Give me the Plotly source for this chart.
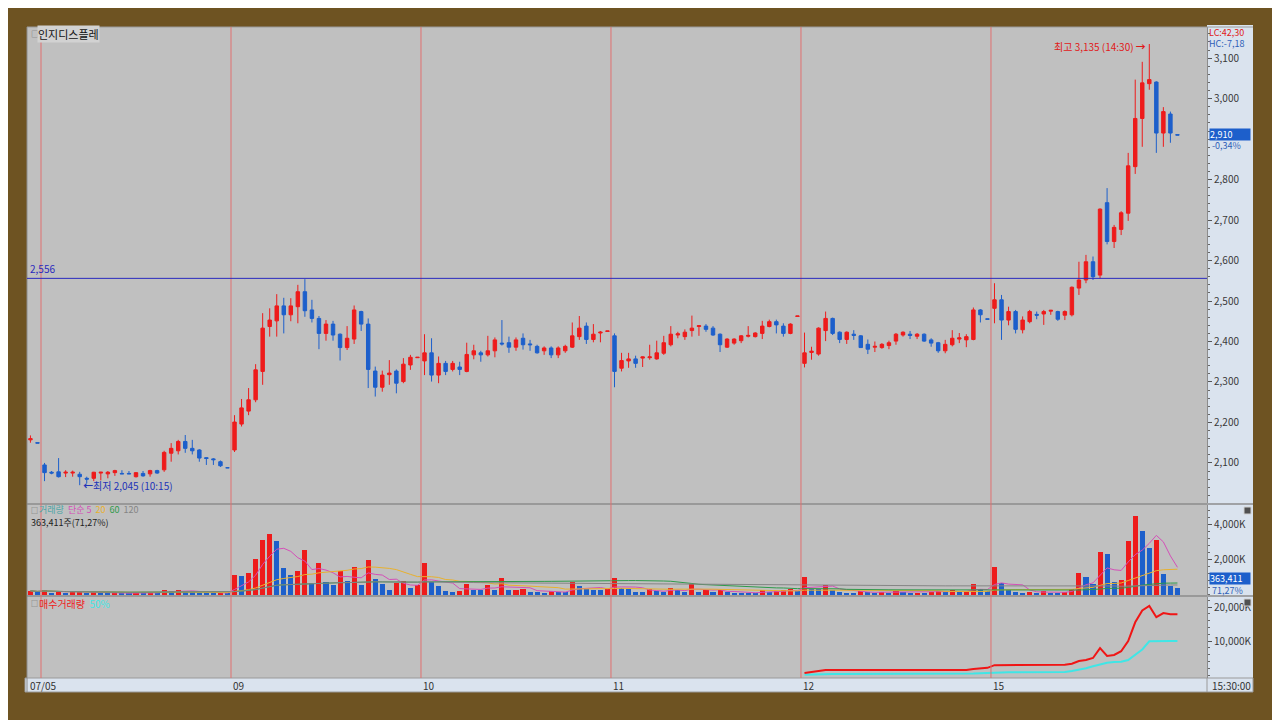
import plotly.graph_objects as go
import pandas as pd

# ---------------- data ----------------
day_labels = ["07/05", "09", "10", "11", "12", "15"]
bars_per_day = 27          # 15-minute bars 09:00 .. 15:30
prev_day_bars = 2          # last two bars of the previous session

o_prev = [2157, 2150]
h_prev = [2168, 2150]
l_prev = [2150, 2149]
c_prev = [2160, 2149]
v_prev = [220, 150]

o_0705 = [2095, 2077, 2078, 2075, 2075, 2072, 2062, 2062, 2075, 2073, 2076, 2074, 2074, 2066, 2074, 2073, 2081, 2083, 2124, 2130, 2153, 2136, 2132, 2113, 2110, 2103, 2088]
h_0705 = [2100, 2080, 2112, 2082, 2081, 2078, 2066, 2078, 2078, 2080, 2083, 2082, 2080, 2077, 2080, 2083, 2083, 2130, 2149, 2157, 2169, 2157, 2134, 2114, 2112, 2106, 2088]
l_0705 = [2055, 2072, 2064, 2065, 2066, 2045, 2050, 2055, 2057, 2062, 2068, 2073, 2073, 2064, 2066, 2066, 2073, 2078, 2103, 2121, 2125, 2121, 2103, 2095, 2095, 2090, 2088]
c_0705 = [2076, 2075, 2066, 2077, 2077, 2066, 2060, 2077, 2077, 2077, 2081, 2073, 2073, 2076, 2068, 2081, 2075, 2126, 2136, 2153, 2136, 2130, 2112, 2111, 2108, 2093, 2088]
v_0705 = [260, 120, 210, 100, 150, 190, 90, 160, 110, 90, 130, 60, 50, 140, 80, 160, 100, 280, 230, 250, 180, 140, 120, 90, 80, 110, 60]

o_09 = [2132, 2196, 2228, 2256, 2326, 2437, 2451, 2488, 2466, 2486, 2523, 2478, 2457, 2420, 2443, 2418, 2385, 2406, 2474, 2443, 2327, 2287, 2318, 2327, 2301, 2342, 2360]
h_09 = [2218, 2258, 2285, 2344, 2470, 2482, 2517, 2508, 2507, 2540, 2554, 2503, 2463, 2453, 2451, 2420, 2438, 2489, 2476, 2457, 2338, 2328, 2354, 2331, 2359, 2367, 2361]
l_09 = [2127, 2190, 2218, 2250, 2293, 2412, 2412, 2420, 2450, 2445, 2461, 2447, 2381, 2402, 2402, 2353, 2379, 2394, 2426, 2285, 2264, 2276, 2293, 2272, 2297, 2330, 2360]
c_09 = [2201, 2236, 2256, 2330, 2433, 2453, 2488, 2466, 2488, 2523, 2476, 2457, 2420, 2443, 2416, 2385, 2408, 2478, 2443, 2331, 2287, 2317, 2322, 2297, 2344, 2361, 2361]
v_09 = [1147, 1090, 1241, 2030, 3158, 3497, 3102, 1504, 1147, 1335, 2538, 658, 1805, 714, 564, 1335, 808, 1560, 564, 1974, 902, 620, 282, 658, 808, 395, 526]

o_10 = [2352, 2372, 2317, 2346, 2331, 2337, 2326, 2367, 2372, 2367, 2377, 2396, 2397, 2386, 2408, 2394, 2388, 2377, 2384, 2367, 2377, 2386, 2412, 2438, 2405, 2421, 2425]
h_10 = [2418, 2408, 2363, 2352, 2352, 2350, 2397, 2392, 2377, 2414, 2410, 2453, 2412, 2410, 2420, 2404, 2392, 2388, 2388, 2388, 2392, 2447, 2463, 2447, 2443, 2426, 2426]
l_10 = [2317, 2301, 2297, 2317, 2326, 2317, 2324, 2356, 2350, 2363, 2361, 2390, 2372, 2377, 2380, 2377, 2370, 2367, 2359, 2359, 2372, 2384, 2404, 2394, 2398, 2398, 2425]
c_10 = [2372, 2317, 2346, 2326, 2346, 2331, 2368, 2377, 2367, 2377, 2404, 2394, 2386, 2404, 2392, 2392, 2372, 2384, 2367, 2384, 2388, 2414, 2433, 2405, 2418, 2423, 2426]
v_10 = [1805, 714, 470, 188, 150, 207, 620, 282, 244, 526, 244, 959, 244, 282, 338, 150, 130, 110, 207, 150, 130, 714, 470, 338, 282, 244, 338]

o_11 = [2414, 2334, 2352, 2357, 2359, 2360, 2357, 2371, 2392, 2416, 2412, 2427, 2437, 2438, 2433, 2418, 2386, 2396, 2402, 2413, 2412, 2420, 2437, 2449, 2438, 2420, 2462]
h_11 = [2420, 2372, 2372, 2365, 2363, 2392, 2402, 2414, 2438, 2424, 2430, 2464, 2440, 2443, 2438, 2420, 2408, 2408, 2416, 2438, 2423, 2451, 2454, 2454, 2445, 2445, 2463]
l_11 = [2287, 2326, 2335, 2335, 2337, 2355, 2355, 2367, 2388, 2408, 2404, 2412, 2414, 2424, 2414, 2374, 2384, 2392, 2396, 2410, 2410, 2406, 2435, 2420, 2412, 2418, 2462]
c_11 = [2326, 2353, 2357, 2346, 2362, 2362, 2372, 2397, 2418, 2419, 2423, 2433, 2439, 2430, 2416, 2392, 2406, 2406, 2414, 2415, 2421, 2438, 2449, 2441, 2420, 2443, 2463]
v_11 = [959, 395, 338, 150, 130, 338, 207, 150, 395, 244, 150, 620, 150, 244, 150, 244, 150, 120, 100, 90, 80, 282, 150, 200, 240, 338, 200]

o_12 = [2346, 2373, 2369, 2427, 2457, 2423, 2405, 2418, 2414, 2393, 2386, 2385, 2390, 2401, 2416, 2418, 2413, 2418, 2404, 2397, 2377, 2392, 2406, 2404, 2405, 2478, 2456]
h_12 = [2422, 2387, 2435, 2474, 2459, 2425, 2425, 2428, 2416, 2405, 2400, 2396, 2402, 2421, 2425, 2426, 2421, 2420, 2408, 2399, 2404, 2428, 2421, 2418, 2484, 2480, 2456]
l_12 = [2336, 2355, 2365, 2401, 2416, 2396, 2394, 2404, 2384, 2369, 2374, 2382, 2381, 2392, 2412, 2406, 2406, 2399, 2387, 2372, 2371, 2388, 2396, 2386, 2403, 2447, 2455]
c_12 = [2372, 2376, 2433, 2457, 2420, 2405, 2423, 2415, 2385, 2381, 2388, 2393, 2397, 2418, 2423, 2415, 2418, 2401, 2396, 2377, 2393, 2408, 2409, 2412, 2478, 2466, 2455]
v_12 = [1006, 343, 330, 531, 257, 171, 114, 100, 219, 150, 100, 130, 100, 200, 150, 100, 120, 100, 150, 200, 150, 250, 150, 200, 629, 300, 200]

o_15 = [2482, 2503, 2453, 2474, 2429, 2449, 2467, 2468, 2475, 2474, 2465, 2466, 2532, 2552, 2597, 2564, 2743, 2647, 2677, 2717, 2832, 2951, 3037, 3041, 2915, 2962, 2911]
h_15 = [2544, 2515, 2486, 2478, 2462, 2478, 2474, 2478, 2478, 2476, 2477, 2536, 2597, 2614, 2610, 2729, 2779, 2688, 2722, 2866, 3047, 3091, 3135, 3043, 2979, 2968, 2911]
l_15 = [2445, 2404, 2440, 2420, 2420, 2445, 2455, 2441, 2466, 2451, 2453, 2462, 2515, 2544, 2552, 2556, 2640, 2631, 2663, 2698, 2814, 2881, 3022, 2866, 2881, 2891, 2910]
c_15 = [2503, 2453, 2474, 2430, 2453, 2474, 2465, 2474, 2477, 2455, 2474, 2534, 2552, 2597, 2560, 2727, 2647, 2682, 2718, 2834, 2951, 3039, 3047, 2915, 2968, 2915, 2910]
v_15 = [1577, 663, 286, 171, 114, 130, 114, 219, 114, 100, 130, 350, 1257, 1006, 629, 2434, 2337, 720, 817, 3063, 4531, 3634, 2663, 3106, 1194, 510, 363.411]

# 매수거래량 (thousand shares) and its 50% line, shown from day "12"
buy_12 = [600, 900, 1200, 1450, 1450, 1450, 1450, 1450, 1450, 1450, 1450, 1450, 1450, 1450, 1450, 1450, 1450, 1450, 1450, 1450, 1450, 1450, 1450, 1500, 1750, 2000, 2100]
buy_15 = [2900, 2900, 2900, 2900, 2900, 2900, 2900, 2900, 2900, 2900, 3000, 3300, 4100, 4400, 5000, 7900, 5600, 5900, 7000, 10000, 15500, 19000, 20300, 17000, 18200, 17900, 17900]
half_12 = [50, 150, 250, 300, 300, 300, 300, 300, 300, 300, 300, 300, 300, 300, 300, 300, 300, 300, 300, 300, 300, 300, 300, 350, 450, 550, 650]
half_15 = [800, 800, 800, 800, 800, 800, 800, 800, 800, 800, 900, 1200, 1500, 2000, 2600, 3200, 3600, 3800, 3900, 4400, 6000, 7500, 9900, 10000, 10000, 10000, 10000]

price_ticks = [2100, 2200, 2300, 2400, 2500, 2600, 2700, 2800, 3000, 3100]   # 2,900 hidden by price box
ma_periods = [5, 20, 60, 120]
ma_colors = ["#D44FB8", "#E8B12E", "#2E9A4A", "#858585"]

close_text = "2,910"
change_text = "-0,34%"
vol_text = "363,411"
vol_ratio_text = "71,27%"

# ---------------- assemble ----------------
opens = o_prev + o_0705 + o_09 + o_10 + o_11 + o_12 + o_15
highs = h_prev + h_0705 + h_09 + h_10 + h_11 + h_12 + h_15
lows = l_prev + l_0705 + l_09 + l_10 + l_11 + l_12 + l_15
closes = c_prev + c_0705 + c_09 + c_10 + c_11 + c_12 + c_15
volumes = v_prev + v_0705 + v_09 + v_10 + v_11 + v_12 + v_15
n = len(opens)
xs = list(range(n))

times = []
for k in range(bars_per_day):
    m = 9 * 60 + 15 * k
    times.append(f"{m // 60:02d}:{m % 60:02d}")
all_times = ["15:15", "15:30"] + times * len(day_labels)

start12 = prev_day_bars + bars_per_day * 4
buy = [None] * start12 + buy_12 + buy_15
half = [None] * start12 + half_12 + half_15

RED = "#EE1B1B"
BLUE = "#1D5FCB"

vol_colors = []
for i, v in enumerate(volumes):
    vol_colors.append(RED if i == 0 or v >= volumes[i - 1] else BLUE)

vs = pd.Series(volumes, dtype=float)

fig = go.Figure()
fig.add_trace(go.Candlestick(
    x=xs, open=opens, high=highs, low=lows, close=closes,
    increasing=dict(line=dict(color=RED, width=1), fillcolor=RED),
    decreasing=dict(line=dict(color=BLUE, width=1), fillcolor=BLUE),
    whiskerwidth=0, yaxis="y", xaxis="x", showlegend=False, hoverinfo="skip"))

fig.add_trace(go.Bar(x=xs, y=volumes, marker=dict(color=vol_colors, line=dict(width=0)),
                     width=0.72, yaxis="y2", xaxis="x", showlegend=False, hoverinfo="skip"))
for p, col in zip(ma_periods, ma_colors):
    fig.add_trace(go.Scatter(x=xs, y=vs.rolling(p, min_periods=1).mean(), mode="lines",
                             line=dict(color=col, width=1), yaxis="y2", xaxis="x",
                             showlegend=False, hoverinfo="skip"))

fig.add_trace(go.Scatter(x=xs, y=half, mode="lines", line=dict(color="#3FE6E6", width=2),
                         yaxis="y3", xaxis="x", showlegend=False, hoverinfo="skip"))
fig.add_trace(go.Scatter(x=xs, y=buy, mode="lines", line=dict(color="#F01515", width=2),
                         yaxis="y3", xaxis="x", showlegend=False, hoverinfo="skip"))

# ---------------- layout ----------------
# page body has an 8px margin, so the figure is 8px smaller and its margins 8px less
PW, PH = 1180, 651
def px2x(xpx):
    return (xpx - 27) / PW
def px2y(ypx):
    return (678 - ypx) / PH

FONT = "Noto Sans CJK KR, DejaVu Sans, sans-serif"
tickfont = dict(family=FONT, size=10, color="#3A3A3A")
axis_common = dict(side="right", anchor="x", showgrid=False, zeroline=False, ticks="outside",
                   ticklen=4, tickcolor="#555", tickfont=tickfont, showline=True,
                   linecolor="#8C8C8C", linewidth=1)

fig.update_layout(
    width=1272, height=712,
    margin=dict(l=19, r=73, t=19, b=42),
    paper_bgcolor="#6E5322",
    plot_bgcolor="#C0C0C0",
    showlegend=False,
    bargap=0,
    xaxis=dict(domain=[0, 1], range=[-0.49, 167.2], anchor="y3", showticklabels=False,
               showgrid=False, zeroline=False, ticks="", rangeslider=dict(visible=False),
               showline=False),
    yaxis=dict(domain=[px2y(503), 1], range=[2001, 3177], tickvals=price_ticks,
               tickformat=",d", minor=dict(ticks="outside", ticklen=2, tickcolor="#666", dtick=20),
               **axis_common),
    yaxis2=dict(domain=[px2y(595), px2y(505)], range=[-20, 5140], tickvals=[2000, 4000],
                ticktext=["2,000K", "4,000K"],
                minor=dict(ticks="outside", ticklen=2, tickcolor="#666", dtick=400),
                **axis_common),
    yaxis3=dict(domain=[0, px2y(597)], range=[-880, 22940], tickvals=[10000, 20000],
                ticktext=["10,000K", "20,000K"],
                minor=dict(ticks="outside", ticklen=2, tickcolor="#666", dtick=2000),
                **axis_common),
)

shapes = []
shapes.append(dict(type="rect", xref="paper", yref="paper", x0=0, x1=1, y0=0, y1=1,
                   fillcolor="#C0C0C0", line=dict(width=0), layer="below"))
shapes.append(dict(type="rect", xref="paper", yref="paper", x0=1, x1=px2x(1253), y0=0, y1=px2y(25),
                   fillcolor="#DAE3EE", line=dict(width=0), layer="below"))
shapes.append(dict(type="rect", xref="paper", yref="paper", x0=px2x(25), x1=px2x(1253), y0=px2y(692), y1=0,
                   fillcolor="#DAE3EE", line=dict(color="#9A9A9A", width=1), layer="below"))
shapes.append(dict(type="line", xref="paper", yref="paper", x0=1, x1=1, y0=px2y(692), y1=0,
                   line=dict(color="#9A9A9A", width=1)))
for ypx in (504, 596):
    shapes.append(dict(type="line", xref="paper", yref="paper", x0=0, x1=px2x(1253), y0=px2y(ypx), y1=px2y(ypx),
                       line=dict(color="#8C8C8C", width=1.5)))
shapes.append(dict(type="line", xref="paper", yref="paper", x0=0, x1=0, y0=px2y(692), y1=1,
                   line=dict(color="#8C8C8C", width=1)))
shapes.append(dict(type="line", xref="paper", yref="paper", x0=0, x1=px2x(1253), y0=1, y1=1,
                   line=dict(color="#9A9A9A", width=1)))
for d in range(len(day_labels)):
    xsep = prev_day_bars - 0.5 + bars_per_day * d
    shapes.append(dict(type="line", xref="x", yref="paper", x0=xsep, x1=xsep, y0=0, y1=1,
                       line=dict(color="#E07070", width=1)))
level = 2556
shapes.append(dict(type="line", xref="paper", yref="y", x0=0, x1=1, y0=level, y1=level,
                   line=dict(color="#2A2ABE", width=1)))
for ypx in (510, 602):
    shapes.append(dict(type="rect", xref="paper", yref="paper", x0=px2x(1244), x1=px2x(1251),
                       y0=px2y(ypx + 4), y1=px2y(ypx - 3), fillcolor="#505050",
                       line=dict(color="#D0D0D0", width=1)))
fig.update_layout(shapes=shapes)

ann = []
def note(text, x, y, xref="paper", yref="paper", xanchor="left", yanchor="middle", size=10,
         color="#222", **kw):
    ann.append(dict(text=text, x=x, y=y, xref=xref, yref=yref, xanchor=xanchor, yanchor=yanchor,
                    showarrow=False, font=dict(family=FONT, size=size, color=color), **kw))

note("□", px2x(29), px2y(34), size=8, color="#6A6A6A")
note("인지디스플레", px2x(37), px2y(34), size=11, color="#111", bgcolor="#D2D2D2", borderpad=0)
note("□", px2x(29), px2y(510), size=7, color="#6A6A6A")
legend_html = ("<span style='color:#4BA6A6'>거래량</span>  <span style='color:#D44FB8'>단순 5</span>  "
               "<span style='color:#E8B12E'>20</span>  <span style='color:#2E9A4A'>60</span>  "
               "<span style='color:#858585'>120</span>")
note(legend_html, px2x(37), px2y(509), size=9)
note(f"{vol_text}주({vol_ratio_text})", px2x(29), px2y(522), size=9, color="#222")
note("□", px2x(29), px2y(603), size=7, color="#6A6A6A")
note("<span style='color:#EE1B1B'>매수거래량</span>  <span style='color:#3FE6E6'>50%</span>",
     px2x(37), px2y(603), size=10)

note(f"{level:,}", px2x(28), level, yref="y", yanchor="bottom", size=10, color="#2A2ABE")

i_low = min(range(n), key=lambda i: lows[i])
i_high = max(range(n), key=lambda i: highs[i])
note(f"<b>←</b>최저 {lows[i_low]:,} ({all_times[i_low]})", i_low, lows[i_low], xref="x", yref="y",
     xanchor="left", xshift=1, size=10, color="#2233B8")
note(f"최고 {highs[i_high]:,} ({all_times[i_high]}) <b>→</b>", i_high, highs[i_high], xref="x", yref="y",
     xanchor="right", xshift=-1, yshift=-2, size=10, color="#E01818")

note("LC:42,30", px2x(1207), px2y(32), size=9, color="#E02020")
note("HC:-7,18", px2x(1207), px2y(44), size=9, color="#2F5FB8")
note(close_text, px2x(1209), px2y(134), size=9, color="#FFFFFF",
     bgcolor="#1D5FCB", width=40, height=11, align="left", borderpad=0)
note(change_text, px2x(1210), px2y(146), size=9, color="#2F5FB8")
note(vol_text, px2x(1209), px2y(578), size=9, color="#FFFFFF",
     bgcolor="#1D5FCB", width=40, height=11, align="left", borderpad=0)
note(vol_ratio_text, px2x(1210), px2y(590), size=9, color="#2F5FB8")

for d, lab in enumerate(day_labels):
    xsep = prev_day_bars - 0.5 + bars_per_day * d
    if d == 0:
        note(lab, px2x(28), px2y(685), size=10, color="#333")
    else:
        note(lab, xsep, px2y(685), xref="x", size=10, color="#333")
note("15:30:00", px2x(1210), px2y(685), size=10, color="#333")

fig.update_layout(annotations=ann)
fig.write_html("out.html")
